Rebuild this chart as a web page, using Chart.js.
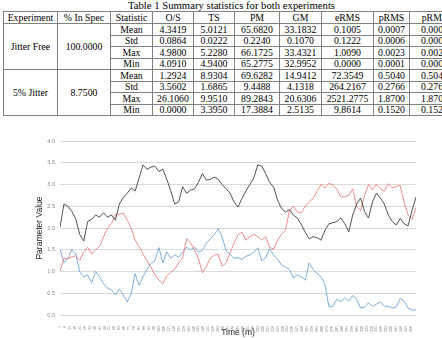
<!DOCTYPE html>
<html lang="en">

<head>
    <meta charset="UTF-8">
    <title>Summary statistics and parameter values</title>
    <script src="https://cdn.jsdelivr.net/npm/chart.js"></script>
    <style>
        body {
            margin: 0;
            width: 442px;
            height: 338px;
            overflow: hidden;
            background: #fff;
            position: relative;
        }

        .caption {
            position: absolute;
            top: 0;
            left: 128px;
            white-space: nowrap;
            font: 10.7px "Liberation Serif", serif;
            line-height: 11px;
        }

        table {
            position: absolute;
            left: 3px;
            top: 11px;
            width: 456px;
            border-collapse: collapse;
            table-layout: fixed;
            font: 9.8px "Liberation Serif", serif;
        }

        th,
        td {
            border: 1px solid #808080;
            padding: 0;
            text-align: center;
            font-weight: normal;
            white-space: nowrap;
            overflow: hidden;
            line-height: 9px;
        }

        tr {
            height: 11.5px;
        }

        tr.head {
            height: 12px;
        }

        .chart-box {
            position: absolute;
            left: 0;
            top: 130px;
            width: 442px;
            height: 208px;
        }
    </style>
</head>

<body>

    <div class="caption">Table 1 Summary statistics for both experiments</div>
    <table id="stats"></table>

    <div class="chart-box">
        <canvas id="paramChart"></canvas>
    </div>

    <script>
        // table data
        const headers = ['Experiment', '% In Spec', 'Statistic', 'O/S', 'TS', 'PM', 'GM', 'eRMS', 'pRMS', 'pRMS'];
        const colWidths = [54, 53, 42, 41, 41, 45, 42, 52, 36, 50];
        const experiments = ['Jitter Free', '5% Jitter'];
        const inSpec = ['100.0000', '8.7500'];
        const statNames = ['Mean', 'Std', 'Max', 'Min'];
        const jitterFree = [
            ['4.3419', '5.0121', '65.6820', '33.1832', '0.1005', '0.0007', '0.0007'],
            ['0.0864', '0.0222', '0.2240', '0.1070', '0.1222', '0.0006', '0.0006'],
            ['4.9800', '5.2280', '66.1725', '33.4321', '1.0090', '0.0023', '0.0023'],
            ['4.0910', '4.9400', '65.2775', '32.9952', '0.0000', '0.0001', '0.0001']
        ];
        const jitter5 = [
            ['1.2924', '8.9304', '69.6282', '14.9412', '72.3549', '0.5040', '0.5040'],
            ['3.5602', '1.6865', '9.4488', '4.1318', '264.2167', '0.2766', '0.2766'],
            ['26.1060', '9.9510', '89.2843', '20.6306', '2521.2775', '1.8700', '1.8700'],
            ['0.0000', '3.3950', '17.3884', '2.5135', '9.8614', '0.1520', '0.1520']
        ];

        // chart data
        const times = [1, 5, 9, 13, 17, 21, 25, 29, 33, 37, 41, 45, 49, 53, 57, 61, 65, 69, 73, 77,
            81, 85, 89, 93, 97, 101, 105, 109, 113, 117, 121, 125, 129, 133, 137, 141, 145, 149, 153, 157,
            161, 165, 169, 173, 177, 181, 185, 189, 193, 197, 201, 205, 209, 213, 217, 221, 225, 229, 233, 237,
            241, 245, 249, 253, 257, 261, 265, 269, 273, 277, 281, 285, 289, 293, 297, 301, 305, 309, 313, 317,
            321, 325, 329, 333, 337, 341, 345, 349, 353, 357, 361];
        const blackVals = [2.02, 2.55, 2.5, 2.38, 2.2, 1.85, 1.7, 2.15, 2.2, 2.3,
            2.25, 2.35, 2.25, 2.3, 2.18, 2.55, 2.7, 2.8, 2.92, 2.85,
            3.15, 3.45, 3.35, 3.4, 3.42, 3.3, 3.35, 3.12, 2.85, 2.55,
            2.6, 2.95, 2.8, 2.87, 2.9, 3.05, 3.25, 3.1, 3.12, 3.17,
            3.12, 3.0, 2.9, 2.8, 2.6, 2.48, 2.68, 2.85, 3.0, 3.15,
            3.45, 3.42, 3.25, 3.05, 2.94, 2.64, 2.45, 2.37, 2.42, 2.3,
            2.23, 2.08, 1.9, 1.75, 1.8, 1.78, 1.72, 1.95, 2.1, 2.12,
            2.15, 2.23, 2.1, 1.91, 2.3, 2.55, 2.69, 2.38, 2.23, 2.6,
            2.8, 2.69, 2.55, 2.3, 2.15, 2.07, 2.22, 2.1, 2.05, 2.4,
            2.71];
        const redVals = [1.01, 1.3, 1.3, 1.34, 1.36, 1.26, 1.45, 1.56, 1.4, 1.5,
            1.58, 1.79, 2.0, 2.1, 2.3, 2.32, 2.34, 2.18, 2.0, 1.72,
            1.58, 1.4, 1.25, 1.1, 0.92, 0.8, 0.72, 0.9, 0.98, 1.05,
            1.2, 1.31, 1.75, 1.66, 1.5, 1.3, 0.97, 1.12, 1.3, 1.38,
            1.4, 1.12, 1.2, 1.43, 1.65, 1.85, 1.9, 1.72, 1.8, 1.86,
            1.8, 1.72, 1.8, 1.55, 1.52, 1.72, 1.85, 1.95, 2.4, 2.5,
            2.37, 2.35, 2.5, 2.6, 2.68, 2.85, 3.0, 2.92, 3.03, 2.98,
            2.9, 2.71, 2.72, 2.75, 2.9, 2.5, 2.4, 2.75, 3.0, 2.88,
            3.0, 2.9, 2.85, 3.02, 2.92, 2.95, 2.98, 2.6, 2.3, 2.2,
            2.46];
        const blueVals = [1.52, 1.2, 1.3, 1.5, 1.4, 0.99, 0.88, 0.92, 0.74, 1.0,
            0.88, 0.72, 0.62, 0.58, 0.46, 0.6, 0.46, 0.3, 0.5, 0.95,
            0.68, 0.88, 1.05, 1.18, 1.25, 1.55, 1.2, 1.45, 1.3, 1.38,
            1.33, 1.45, 1.56, 1.5, 1.56, 1.45, 1.48, 1.65, 1.75, 1.85,
            1.98, 1.79, 1.47, 1.4, 1.3, 1.32, 1.28, 1.35, 1.38, 1.45,
            1.54, 1.25, 1.32, 1.52, 1.38, 1.28, 1.15, 1.1, 1.05, 0.85,
            0.92, 0.88, 0.8, 1.2, 1.05, 0.95, 0.88, 0.7, 0.18, 0.2,
            0.36, 0.3, 0.4, 0.32, 0.45, 0.36, 0.16, 0.18, 0.28, 0.2,
            0.25, 0.3, 0.2, 0.2, 0.16, 0.18, 0.38, 0.32, 0.16, 0.11,
            0.12];
        const xTicks = [1, 6, 11, 16, 21, 26, 31, 36, 41, 46, 51, 56, 61, 66, 71, 76, 81, 86, 91, 96,
            101, 106, 111, 116, 121, 126, 131, 136, 141, 146, 151, 156, 161, 166, 171, 176, 181, 186, 191, 196,
            201, 206, 211, 216, 221, 226, 231, 236, 241, 246, 251, 256, 261, 266, 271, 276, 281, 286, 291, 296,
            301, 306, 311, 316, 321, 326, 331, 336, 341, 346, 351, 356];
        const yTicks = [0, 0.5, 1, 1.5, 2, 2.5, 3, 3.5, 4];

        // build the table
        const table = document.getElementById('stats');
        let html = '<colgroup>' + colWidths.map(w => `<col style="width:${w}px">`).join('') + '</colgroup>';
        html += '<tr class="head">' + headers.map(h => `<th>${h}</th>`).join('') + '</tr>';
        [jitterFree, jitter5].forEach((block, b) => {
            block.forEach((row, r) => {
                html += '<tr>';
                if (r === 0) {
                    html += `<td rowspan="4">${experiments[b]}</td><td rowspan="4">${inSpec[b]}</td>`;
                }
                html += `<td>${statNames[r]}</td>` + row.map(v => `<td>${v}</td>`).join('');
                html += '</tr>';
            });
        });
        table.innerHTML = html;

        // chart
        const toPoints = vals => vals.map((v, i) => ({ x: times[i], y: v }));
        const ctx = document.getElementById('paramChart').getContext('2d');
        const paramChart = new Chart(ctx, {
            type: 'line',
            data: {
                datasets: [{
                    data: toPoints(blackVals),
                    borderColor: '#404040',
                    borderWidth: 0.9
                }, {
                    data: toPoints(redVals),
                    borderColor: '#ec7f7f',
                    borderWidth: 0.9
                }, {
                    data: toPoints(blueVals),
                    borderColor: '#6fa6d8',
                    borderWidth: 0.9
                }]
            },
            options: {
                responsive: true,
                maintainAspectRatio: false,
                animation: false,
                elements: { point: { radius: 0 }, line: { tension: 0 } },
                layout: { padding: { left: 0, right: 26, top: 11, bottom: 0 } },
                plugins: { legend: { display: false }, tooltip: { enabled: false } },
                scales: {
                    x: {
                        type: 'linear',
                        min: 1,
                        max: 361,
                        afterBuildTicks: scale => { scale.ticks = xTicks.map(v => ({ value: v })); },
                        afterFit: scale => { scale.height = 23; },
                        grid: { display: false },
                        border: { display: false },
                        ticks: {
                            autoSkip: false,
                            minRotation: 90,
                            maxRotation: 90,
                            padding: 3,
                            color: '#777',
                            font: { family: 'Liberation Sans', size: 3.6 },
                            callback: v => String(v)
                        },
                        title: {
                            display: true,
                            text: 'Time (m)',
                            color: '#222',
                            font: { family: 'Liberation Sans', size: 8.5 },
                            padding: { top: 0, bottom: 0 }
                        }
                    },
                    y: {
                        min: 0,
                        max: 4,
                        afterBuildTicks: scale => { scale.ticks = yTicks.map(v => ({ value: v })); },
                        afterFit: scale => { scale.width = 60; },
                        grid: { color: '#d9d9d9', drawTicks: false },
                        border: { display: false },
                        ticks: {
                            padding: 5,
                            color: '#888',
                            font: { family: 'Liberation Sans', size: 5.5 },
                            callback: v => v.toFixed(1)
                        },
                        title: {
                            display: true,
                            text: 'Parameter Value',
                            color: '#222',
                            font: { family: 'Liberation Sans', size: 8.5 },
                            padding: { top: 35, bottom: 0 }
                        }
                    }
                }
            }
        });
    </script>

</body>

</html>
